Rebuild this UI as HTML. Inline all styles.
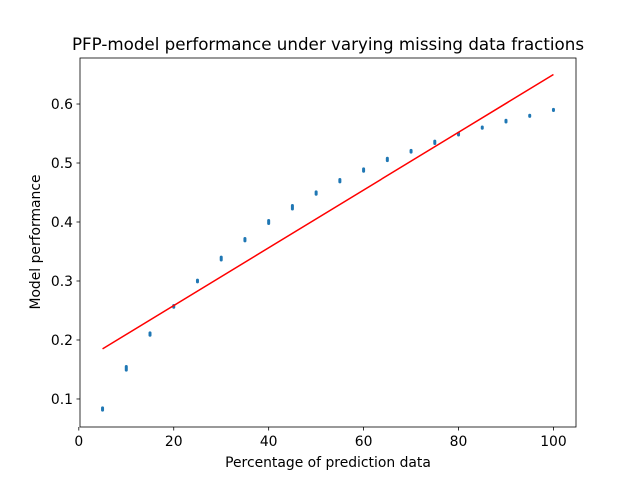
<!DOCTYPE html>
<html><head><meta charset="utf-8"><style>
body{margin:0;background:#fff;font-family:"Liberation Sans","DejaVu Sans",sans-serif}
svg text{font-family:"DejaVu Sans","Liberation Sans",sans-serif}
</style></head><body>
<svg id="chart" width="640" height="480" xmlns="http://www.w3.org/2000/svg">
<rect width="640" height="480" fill="#fff"/>
<text x="328" y="50" text-anchor="middle" font-size="16.7">PFP-model performance under varying missing data fractions</text>
<g id="marks"></g>
<g id="axes"></g>
<rect x="80" y="58" width="496" height="369" fill="none" stroke="#000" stroke-width="0.8"/>
<text x="328" y="467" text-anchor="middle" font-size="13.9">Percentage of prediction data</text>
<text transform="translate(40,242) rotate(-90)" text-anchor="middle" font-size="13.9">Model performance</text>
</svg>
<script>
const xs=[5,10,15,20,25,30,35,40,45,50,55,60,65,70,75,80,85,90,95,100];
const perf=[0.083,0.152,0.21,0.257,0.3,0.338,0.37,0.4,0.425,0.449,0.47,0.488,0.506,0.52,0.535,0.549,0.56,0.571,0.58,0.59];
const spread=[0.004,0.006,0.004,0.003,0.003,0.005,0.004,0.005,0.006,0.004,0.004,0.004,0.004,0.003,0.004,0.003,0.002,0.003,0.002,0.002];
const fitX=[5,100];
const fitY=[0.185,0.65];
const xTicks=[0,20,40,60,80,100];
const yTicks=[0.1,0.2,0.3,0.4,0.5,0.6];
const L=80,R=576,T=58,B=427,x0=0.25,x1=104.75,y0=0.0525,y1=0.678;
const sx=v=>L+(v-x0)/(x1-x0)*(R-L);
const sy=v=>B-(v-y0)/(y1-y0)*(B-T);
const NS="http://www.w3.org/2000/svg";
const marks=document.getElementById('marks'),axes=document.getElementById('axes');
function mk(tag,attrs,parent){const e=document.createElementNS(NS,tag);for(const k in attrs)e.setAttribute(k,attrs[k]);parent.appendChild(e);return e;}
xs.forEach((x,i)=>{
 const h=Math.abs(sy(perf[i]-spread[i])-sy(perf[i]+spread[i]));
 const e=mk('rect',{x:sx(x)-1.5,y:sy(perf[i]+spread[i]/2)-1.5,width:3,height:h/2+3,rx:1.5,fill:'#1f77b4'},marks);
 
 
});
const ln=mk('line',{x1:sx(fitX[0]),y1:sy(fitY[0]),x2:sx(fitX[1]),y2:sy(fitY[1]),stroke:'red','stroke-width':1.5},marks);


xTicks.forEach(t=>{
 const x=sx(t);
 mk('line',{x1:x,x2:x,y1:B,y2:B+3.5,stroke:'#000','stroke-width':0.8},axes);
 const tx=mk('text',{x:x,y:B+19,'text-anchor':'middle','font-size':13.9},axes);
 tx.textContent=t;
 
 
});
yTicks.forEach(t=>{
 const y=sy(t);
 mk('line',{x1:L-3.5,x2:L,y1:y,y2:y,stroke:'#000','stroke-width':0.8},axes);
 const tx=mk('text',{x:L-7,y:y+5,'text-anchor':'end','font-size':13.9},axes);
 tx.textContent=t.toFixed(1);
 
 
});
</script>
</body></html>
